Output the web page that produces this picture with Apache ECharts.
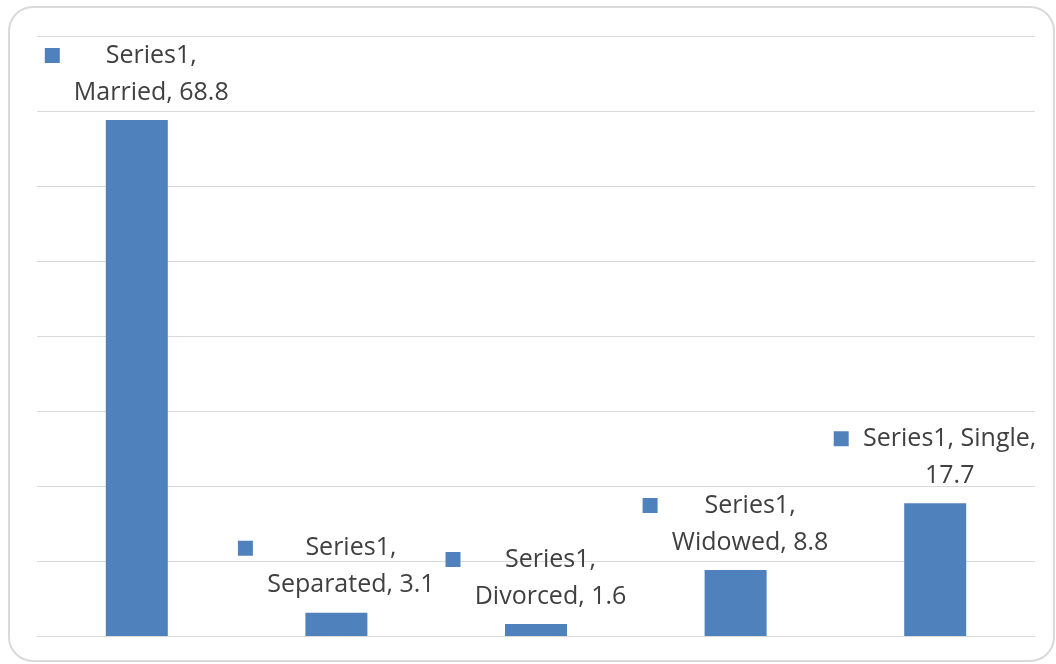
<!DOCTYPE html>
<html>
<head>
<meta charset="utf-8">
<script src="https://cdn.jsdelivr.net/npm/echarts@6/dist/echarts.min.js"></script>
<style>
  html, body { margin: 0; padding: 0; background: #fff; }
  #chart { width: 1056px; height: 664px; }
</style>
</head>
<body>
<div id="chart"></div>
<script>
const seriesName = 'Series1';
const categories = ['Married', 'Separated', 'Divorced', 'Widowed', 'Single'];
const values = [68.8, 3.1, 1.6, 8.8, 17.7];
// where the data label wraps: after the series name or after the category
const labelBreaks = ['series', 'series', 'series', 'series', 'category'];
const yTicks = [0, 10, 20, 30, 40, 50, 60, 70, 80];

const FONT_SIZE = 25;
const FONT_FAMILY = '"Open Sans", sans-serif';
const BLUE = '#4F81BD';
const TEXT = '#404040';

const measure = (() => {
    const ctx = document.createElement('canvas').getContext('2d');
    ctx.font = FONT_SIZE + 'px ' + FONT_FAMILY;
    return s => Math.ceil(ctx.measureText(s).width);
})();

const labelLines = categories.map((c, i) => {
    if (labelBreaks[i] === 'category') {
        return [seriesName + ', ' + c + ',', String(values[i])];
    }
    return [seriesName + ',', c + ', ' + values[i]];
});

const myChart = echarts.init(document.getElementById('chart'));

myChart.setOption({
    animation: false,
    grid: { left: 37, right: 21, top: 36, bottom: 28 },
    xAxis: {
        type: 'category',
        data: categories,
        axisTick: { show: false },
        axisLabel: { show: false },
        axisLine: { lineStyle: { color: '#D9D9D9', width: 1 } }
    },
    yAxis: {
        type: 'value',
        min: yTicks[0],
        max: yTicks[yTicks.length - 1],
        interval: yTicks[1] - yTicks[0],
        axisLabel: { show: false },
        axisLine: { show: false },
        axisTick: { show: false },
        splitLine: { lineStyle: { color: '#D9D9D9', width: 1 } }
    },
    series: [{
        name: seriesName,
        type: 'bar',
        barWidth: 62,
        itemStyle: { color: BLUE },
        label: {
            show: true,
            position: 'top',
            distance: 9,
            lineHeight: 37,
            color: TEXT,
            fontSize: FONT_SIZE,
            fontFamily: FONT_FAMILY,
            formatter: p => {
                const [a, b] = labelLines[p.dataIndex];
                return '{sq|}{gap|}{t|' + a + '}\n{gap2|}{t|' + b + '}';
            }
        },
        // each label's text column gets its own width so both lines centre on it
        data: values.map((v, i) => {
            const w = Math.max(measure(labelLines[i][0]), measure(labelLines[i][1]));
            return {
                value: v,
                label: {
                    rich: {
                        sq: { width: 15, height: 15, backgroundColor: BLUE },
                        gap: { width: 14 },
                        gap2: { width: 29 },
                        t: {
                            width: w, align: 'center', fontSize: FONT_SIZE, lineHeight: 37,
                            color: TEXT, fontFamily: FONT_FAMILY
                        }
                    }
                }
            };
        })
    }],
    graphic: [{
        type: 'rect',
        shape: { x: 9, y: 7, width: 1045, height: 654, r: 24 },
        style: { fill: 'none', stroke: '#D9D9D9', lineWidth: 2 },
        silent: true
    }]
});
</script>
</body>
</html>
